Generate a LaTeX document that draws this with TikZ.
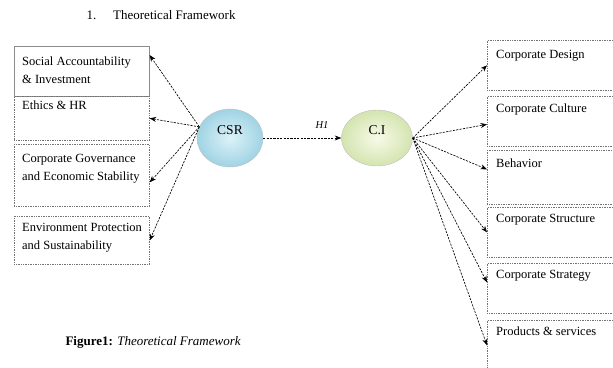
\documentclass[tikz,border=0pt]{standalone}
\usepackage{fontspec}
\setmainfont{Liberation Serif}
\usetikzlibrary{shapes.geometric,arrows.meta}

\definecolor{csrlight}{RGB}{220,242,248}
\definecolor{csrdark}{RGB}{160,211,228}
\definecolor{cilight}{RGB}{247,250,232}
\definecolor{cidark}{RGB}{212,228,176}
\definecolor{boxgray}{RGB}{115,115,115}

\providecommand{\titlefontsize}{\fontsize{13}{15}\selectfont}
\providecommand{\boxfontsize}{\fontsize{12.5}{18}\selectfont}
\providecommand{\ballfontsize}{\fontsize{13.5}{15}\selectfont}

\tikzset{
    framebox/.style={draw=boxgray,densely dotted,line width=0.7pt,inner sep=0,anchor=north west},
    boxtext/.style={anchor=north west,align=left,inner sep=0,font=\boxfontsize},
    ball/.style={ellipse,draw=black!25,line width=0.4pt,inner sep=0,text height=8pt,text depth=16pt,font=\ballfontsize},
    link/.style={dash pattern=on 2.2pt off 1.2pt,line width=0.65pt,-{Stealth[length=6.5pt,width=5pt]}}
}

\begin{document}
\begin{tikzpicture}[x=1pt,y=-1pt]
    \pgfmathsetmacro{\leftx}{14}
    \pgfmathsetmacro{\leftwidth}{135}
    \pgfmathsetmacro{\rightx}{487}
    \pgfmathsetmacro{\rightwidth}{127}
    \pgfmathsetmacro{\rightheight}{50}
    \useasboundingbox (0,0) rectangle (613,367);
    \clip (0,0) rectangle (613,367);

    % heading and caption
    \node[anchor=west,font=\titlefontsize] (title) at (83,15) {1.\hspace{1.3em}Theoretical Framework};
    \node[anchor=west,font=\titlefontsize] (caption) at (62,342) {\textbf{Figure1:} \textit{Theoretical Framework}};

    % left side boxes
    \node[framebox,solid,draw=black!45,line width=0.6pt,minimum width=\leftwidth,minimum height=50] (soc) at (\leftx,46) {};
    \node[framebox,minimum width=\leftwidth,minimum height=44] (eth) at (\leftx,96) {};
    \node[framebox,minimum width=\leftwidth,minimum height=62] (gov) at (\leftx,144) {};
    \node[framebox,minimum width=\leftwidth,minimum height=48] (env) at (\leftx,216) {};
    \node[boxtext] (soc-t) at (\leftx+8,57) {Social Accountability\\\& Investment};
    \node[boxtext] (eth-t) at (\leftx+8,101) {Ethics \& HR};
    \node[boxtext] (gov-t) at (\leftx+8,154) {Corporate Governance\\and Economic Stability};
    \node[boxtext] (env-t) at (\leftx+8,223) {Environment Protection\\and Sustainability};

    % the two constructs
    \node[ball,inner color=csrlight,outer color=csrdark,minimum width=66,minimum height=58] (csr) at (230,138) {CSR};
    \node[ball,inner color=cilight,outer color=cidark,minimum width=71,minimum height=56] (ci) at (377,138) {C.I};
    \node[font=\itshape\fontsize{10.5}{12}\selectfont] (h1) at (322,125) {H1};

    % right side boxes
    \node[framebox,minimum width=\rightwidth,minimum height=\rightheight] (design) at (\rightx,40) {};
    \node[framebox,minimum width=\rightwidth,minimum height=\rightheight] (culture) at (\rightx,96) {};
    \node[framebox,minimum width=\rightwidth,minimum height=54] (behavior) at (\rightx,150) {};
    \node[framebox,minimum width=\rightwidth,minimum height=\rightheight] (structure) at (\rightx,207) {};
    \node[framebox,minimum width=\rightwidth,minimum height=\rightheight] (strategy) at (\rightx,263) {};
    \node[framebox,minimum width=\rightwidth,minimum height=\rightheight] (products) at (\rightx,320) {};
    \node[boxtext] (design-t) at (\rightx+9,50) {Corporate Design};
    \node[boxtext] (culture-t) at (\rightx+9,104) {Corporate Culture};
    \node[boxtext] (behavior-t) at (\rightx+9,159) {Behavior};
    \node[boxtext] (structure-t) at (\rightx+9,214) {Corporate Structure};
    \node[boxtext] (strategy-t) at (\rightx+9,270) {Corporate Strategy};
    \node[boxtext] (products-t) at (\rightx+9,327) {Products \& services};

    % links
    \draw[link] (csr.160) -- ([yshift=-9pt]soc.north east);
    \draw[link] (csr.160) -- (eth.east);
    \draw[link] (csr.160) -- ([yshift=-7pt]gov.east);
    \draw[link] (csr.160) -- (env.east);
    \draw[link] (csr.east) -- (ci.west);
    \draw[link] (ci.east) -- (design.west);
    \draw[link] (ci.east) -- ([yshift=-3pt]culture.west);
    \draw[link] (ci.east) -- ([yshift=8pt]behavior.west);
    \draw[link] (ci.east) -- (structure.west);
    \draw[link] (ci.east) -- ([yshift=6pt]strategy.west);
    \draw[link] (ci.east) -- (products.west);
\end{tikzpicture}
\end{document}
